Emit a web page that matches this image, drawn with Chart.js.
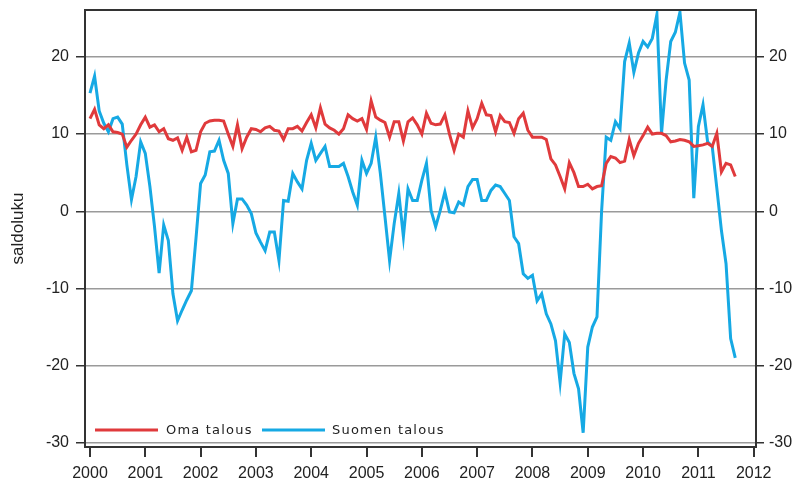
<!DOCTYPE html>
<html>
<head>
<meta charset="utf-8">
<script src="https://cdn.jsdelivr.net/npm/chart.js@4/dist/chart.umd.min.js"></script>
<style>
  html, body { margin: 0; padding: 0; background: #ffffff; }
  #wrap { width: 797px; height: 481px; position: relative; }
</style>
</head>
<body>
<div id="wrap"><canvas id="c" width="797" height="481"></canvas></div>
<script>
// ---- Data (monthly, Jan 2000 – Sep 2011) ----
const years = [2000, 2001, 2002, 2003, 2004, 2005, 2006, 2007, 2008, 2009, 2010, 2011];
const monthsInLastYear = 9;
const seriesNames = ["Oma talous", "Suomen talous"];

const omaTalous = [
  12, 13.2, 11.2, 10.7, 11.2, 10.3, 10.2, 10, 8.3, 9.2, 10, 11.2,
  12.2, 10.9, 11.2, 10.3, 10.7, 9.4, 9.2, 9.5, 7.9, 9.6, 7.7, 7.9,
  10.3, 11.4, 11.7, 11.8, 11.8, 11.7, 10, 8.4, 11.2, 8.1, 9.6, 10.7,
  10.6, 10.3, 10.8, 11, 10.5, 10.4, 9.3, 10.7, 10.7, 11, 10.4, 11.5,
  12.5, 10.8, 13.4, 11.3, 10.8, 10.5, 10, 10.7, 12.5, 12, 11.7, 12,
  10.6, 14.3, 12.2, 11.8, 11.5, 9.6, 11.6, 11.6, 9.1, 11.6, 12.1, 11.2,
  10, 12.7, 11.4, 11.2, 11.3, 12.5, 10, 7.9, 10, 9.6, 13, 10.8,
  12, 14, 12.5, 12.4, 10.3, 12.4, 11.6, 11.5, 10.1, 12, 12.7, 10.5,
  9.6, 9.6, 9.6, 9.3, 6.8, 6, 4.5, 2.9, 6.3, 5, 3.2, 3.2,
  3.5, 2.9, 3.2, 3.3, 6.2, 7.1, 6.9, 6.3, 6.5, 9.3, 7.2, 8.8,
  9.8, 10.9, 10, 10.1, 10.1, 9.8, 9, 9.1, 9.3, 9.2, 9, 8.4,
  8.5, 8.6, 8.8, 8.4, 10.1, 5.1, 6.2, 6, 4.5
];

const suomenTalous = [
  15.3, 17.5, 13, 11.4, 10.3, 12, 12.2, 11.3, 6, 1.5, 4.5, 9,
  7.5, 3.2, -2, -8, -1.8, -3.8, -10.7, -14.2, -12.8, -11.5, -10.3, -3.5,
  3.6, 4.7, 7.7, 7.8, 9.2, 6.6, 4.9, -1.6, 1.6, 1.6, 0.8, -0.3,
  -2.8, -4, -5.1, -2.7, -2.7, -6.4, 1.4, 1.3, 4.9, 3.8, 2.9, 6.6,
  8.8, 6.6, 7.5, 8.4, 5.8, 5.8, 5.8, 6.2, 4.5, 2.5, 0.8, 6.6,
  4.9, 6.2, 9.6, 4.9, -0.7, -6.4, -1.6, 2.3, -3.3, 2.9, 1.4, 1.4,
  4, 6.2, 0.1, -2, 0.1, 2.5, -0.1, -0.2, 1.2, 0.8, 3.2, 4.1,
  4.1, 1.4, 1.4, 2.7, 3.4, 3.2, 2.3, 1.4, -3.3, -4.2, -8.1, -8.7,
  -8.3, -11.6, -10.7, -13.3, -14.6, -16.8, -22.2, -15.9, -17, -21, -23, -28.7,
  -17.6, -15, -13.7, 0, 9.6, 9.2, 11.6, 10.7, 19.4, 21.8, 18, 20.5,
  22, 21.3, 22.4, 25.5, 10.1, 17, 22, 23.2, 25.8, 19.2, 17, 1.7,
  11, 13.8, 9, 8.4, 3, -2.5, -6.8, -16.5, -19
];

const yTickValues = [-30, -20, -10, 0, 10, 20];
const xTickYears = [2000, 2001, 2002, 2003, 2004, 2005, 2006, 2007, 2008, 2009, 2010, 2011, 2012];
const yAxisTitle = "saldoluku";

// ---- Build month categories ----
const months = [];
years.forEach((y, yi) => {
  const n = (yi === years.length - 1) ? monthsInLastYear : 12;
  for (let m = 1; m <= n; m++) months.push(y + "-" + String(m).padStart(2, "0"));
});
const toPoints = arr => arr.map((v, i) => ({ x: i, y: v }));
const monthOffset = yr => (yr - years[0]) * 12;

const RED = "#e03a3c";
const BLUE = "#16a9e4";
const TXT = "#222222";
const GRID = "#9a9a9a";
const FRAME = "#333333";

const frameAndLegend = {
  id: "frameAndLegend",
  afterDraw(chart) {
    const { ctx, chartArea: a } = chart;
    ctx.save();
    ctx.strokeStyle = FRAME;
    ctx.lineWidth = 2;
    ctx.strokeRect(a.left, a.top, a.right - a.left, a.bottom - a.top);
    // legend inside plot area
    const ly = 430;
    const items = [
      { x1: 95, x2: 158, tx: 166, color: chart.data.datasets[0].borderColor, label: chart.data.datasets[0].label },
      { x1: 262, x2: 325, tx: 332, color: chart.data.datasets[1].borderColor, label: chart.data.datasets[1].label }
    ];
    ctx.font = "13px 'DejaVu Sans'";
    ctx.textBaseline = "middle";
    ctx.textAlign = "left";
    if ('letterSpacing' in ctx) ctx.letterSpacing = "1.2px";
    items.forEach(it => {
      ctx.strokeStyle = it.color;
      ctx.lineWidth = 3;
      ctx.beginPath();
      ctx.moveTo(it.x1, ly);
      ctx.lineTo(it.x2, ly);
      ctx.stroke();
      ctx.fillStyle = TXT;
      ctx.fillText(it.label, it.tx, ly + 1);
    });
    ctx.restore();
  }
};

const fitVertical = w => s => { s.width = w; s.paddingTop = 0; s.paddingBottom = 0; };

new Chart(document.getElementById("c"), {
  type: "line",
  data: {
    labels: months,
    datasets: [
      { label: seriesNames[0], data: toPoints(omaTalous), borderColor: RED, backgroundColor: RED,
        borderWidth: 3, pointRadius: 0, tension: 0, yAxisID: "y" },
      { label: seriesNames[1], data: toPoints(suomenTalous), borderColor: BLUE, backgroundColor: BLUE,
        borderWidth: 3, pointRadius: 0, tension: 0, yAxisID: "y" }
    ]
  },
  options: {
    responsive: false,
    animation: false,
    devicePixelRatio: 1,
    layout: { autoPadding: false, padding: { top: 10, left: 0, right: 0, bottom: 0 } },
    plugins: { legend: { display: false }, tooltip: { enabled: false } },
    scales: {
      x: {
        type: "linear",
        min: -1.08,
        max: 144.5,
        afterBuildTicks: s => { s.ticks = xTickYears.map(yr => ({ value: monthOffset(yr) })); },
        afterFit: s => { s.height = 34; s.paddingLeft = 0; s.paddingRight = 0; },
        grid: { drawOnChartArea: false, drawTicks: true, tickLength: 10, tickColor: FRAME, lineWidth: 2 },
        border: { display: false },
        ticks: {
          autoSkip: false, maxRotation: 0, padding: 7, color: TXT,
          font: { family: "'Liberation Sans', Arial", size: 16 },
          callback: v => String(years[0] + v / 12)
        }
      },
      y: {
        position: "left",
        min: -30.55,
        max: 26.08,
        afterBuildTicks: s => { s.ticks = yTickValues.map(v => ({ value: v })); },
        afterFit: fitVertical(85),
        grid: { color: GRID, lineWidth: 1.5, drawTicks: true, tickLength: 9, tickColor: FRAME },
        border: { display: false },
        ticks: { padding: 7, color: TXT, font: { family: "'Liberation Sans', Arial", size: 16 } },
        title: { display: true, text: yAxisTitle, color: TXT, padding: { top: 8, bottom: 0 },
                 font: { family: "'Liberation Sans', Arial", size: 17 } }
      },
      y2: {
        position: "right",
        min: -30.55,
        max: 26.08,
        afterBuildTicks: s => { s.ticks = yTickValues.map(v => ({ value: v })); },
        afterFit: fitVertical(41),
        grid: { drawOnChartArea: false, drawTicks: true, tickLength: 8, tickColor: FRAME, lineWidth: 1.5 },
        border: { display: false },
        ticks: { padding: 5, color: TXT, font: { family: "'Liberation Sans', Arial", size: 16 } }
      }
    }
  },
  plugins: [frameAndLegend]
});
</script>
</body>
</html>
